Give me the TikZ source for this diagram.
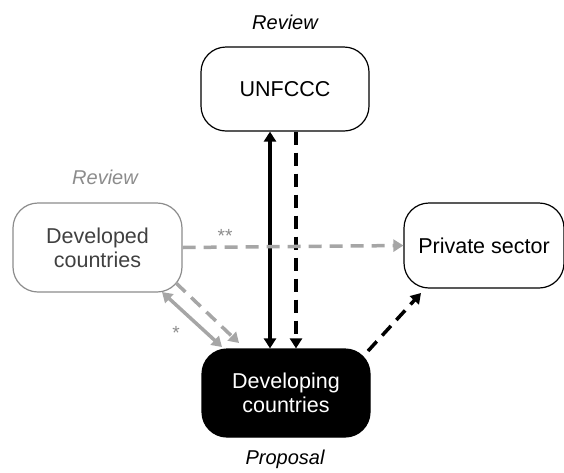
\documentclass[tikz,border=0pt]{standalone}
\usepackage{fontspec}
\setmainfont{Liberation Sans}
\usetikzlibrary{arrows.meta}
\definecolor{lgray}{HTML}{A6A6A6}
\definecolor{bgray}{HTML}{8C8C8C}
\definecolor{tgray}{HTML}{404040}
\begin{document}
\begin{tikzpicture}[x=1pt,y=-1pt,
  box/.style={draw,rounded corners=25pt,line width=1.2pt,align=center,inner sep=0pt,font=\fontsize{21.5}{24}\selectfont},
  lab/.style={font=\fontsize{20}{22}\selectfont\itshape},
  ah/.style={-{Triangle[width=12pt,length=10pt]}},
  dah/.style={{Triangle[width=12pt,length=10pt]}-{Triangle[width=12pt,length=10pt]}},
  dsh/.style={dash pattern=on 13pt off 8pt},
  thick3/.style={line width=3.5pt},
  star/.style={text=bgray,font=\fontsize{19}{21}\selectfont}]
\useasboundingbox (0,0) rectangle (564,472);
\node[box,minimum width=168pt,minimum height=84pt] (un) at (285,89) {UNFCCC};
\node[box,draw=bgray,text=tgray,minimum width=169pt,minimum height=89pt] (dc) at (97.5,247.5) {Developed\\countries};
\node[box,minimum width=160pt,minimum height=85pt] (ps) at (484,245.5) {Private sector};
\node[box,fill=black,text=white,minimum width=168pt,minimum height=88pt] (dg) at (286,393) {Developing\\countries};
\node[lab] (l1) at (285,22) {Review};
\node[lab,text=bgray] (l2) at (105,177) {Review};
\node[lab] (l3) at (285,459) {Proposal};
% black arrows
\draw[thick3,dah] (un.south -| 270,0) -- (dg.north -| 270,0);
\draw[thick3,dsh,ah] (un.south -| 296,0) -- (dg.north -| 296,0);
\coordinate (b1) at (368,351);
\coordinate (b2) at (421,293);
\draw[thick3,dsh,ah] (b1) -- (b2);
% gray arrows
\draw[thick3,lgray,dsh,ah] (dc.east) -- (ps.west);
\node[star] (s2) at (225,236) {**};
\coordinate (c1) at (162,292);
\coordinate (c2) at (222,347);
\draw[thick3,lgray,dah] (c1) -- (c2);
\coordinate (d1) at (176,283);
\coordinate (d2) at (239,343);
\draw[thick3,lgray,dsh,ah] (d1) -- (d2);
\node[star] (s1) at (176,333) {*};
\end{tikzpicture}
\end{document}
